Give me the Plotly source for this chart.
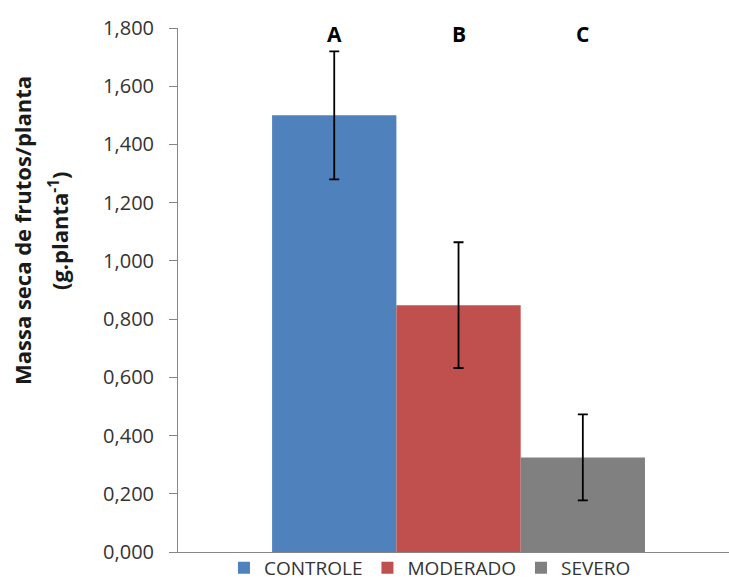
import plotly.graph_objects as go

categories = ["CONTROLE", "MODERADO", "SEVERO"]
values = [1.500, 0.848, 0.325]
errors = [0.220, 0.216, 0.148]
letters = ["A", "B", "C"]
colors = ["#4F81BD", "#C0504D", "#808080"]
y_ticks = [0.0, 0.2, 0.4, 0.6, 0.8, 1.0, 1.2, 1.4, 1.6, 1.8]
y_title_lines = ["Massa seca de frutos/planta", "(g.planta<sup>-1</sup>)"]

fig = go.Figure()
for i, (cat, v, e, c) in enumerate(zip(categories, values, errors, colors)):
    pos = i - 1
    fig.add_trace(go.Bar(
        x=[pos], y=[v], name=cat, width=1.0,
        marker=dict(color=c, line=dict(width=0)),
        error_y=dict(type="data", array=[e], visible=True, color="black",
                     thickness=1.8, width=5),
    ))
    fig.add_annotation(x=pos, y=1.78, xref="x", yref="y", text="<b>%s</b>" % letters[i],
                       showarrow=False, yanchor="middle",
                       font=dict(family="Open Sans", size=21, color="black"))

for txt, xp in zip(y_title_lines, [-0.2831, -0.2159]):
    fig.add_annotation(
        x=xp, y=0.6126, xref="paper", yref="paper",
        text="<b>%s</b>" % txt,
        textangle=-90, showarrow=False, xanchor="center", yanchor="middle",
        font=dict(family="Open Sans", size=22, color="#1a1a1a"),
    )

fig.update_layout(
    width=729, height=580,
    margin=dict(l=178, r=0, t=28, b=28, autoexpand=False),
    paper_bgcolor="white", plot_bgcolor="white",
    barmode="overlay",
    separators=",.",
    showlegend=True,
    legend=dict(orientation="h", x=0.0834, xanchor="left", y=0.006, yanchor="top",
                bgcolor="rgba(0,0,0,0)",
                font=dict(family="Open Sans", size=19, color="#333"),
                itemwidth=30, tracegroupgap=0),
    xaxis=dict(range=[-2.257, 2.176], showticklabels=False, ticks="",
               showgrid=False, zeroline=False, showline=True,
               linecolor="#868686", linewidth=1),
    yaxis=dict(range=[0, 1.8], tickvals=y_ticks, tickformat=".3f",
               showgrid=False, zeroline=False, showline=True,
               linecolor="#868686", linewidth=1, ticks="outside", ticklen=8,
               tickcolor="#868686", ticklabelstandoff=11,
               tickfont=dict(family="Open Sans", size=20, color="#333")),
)

fig.write_html("out.html")
